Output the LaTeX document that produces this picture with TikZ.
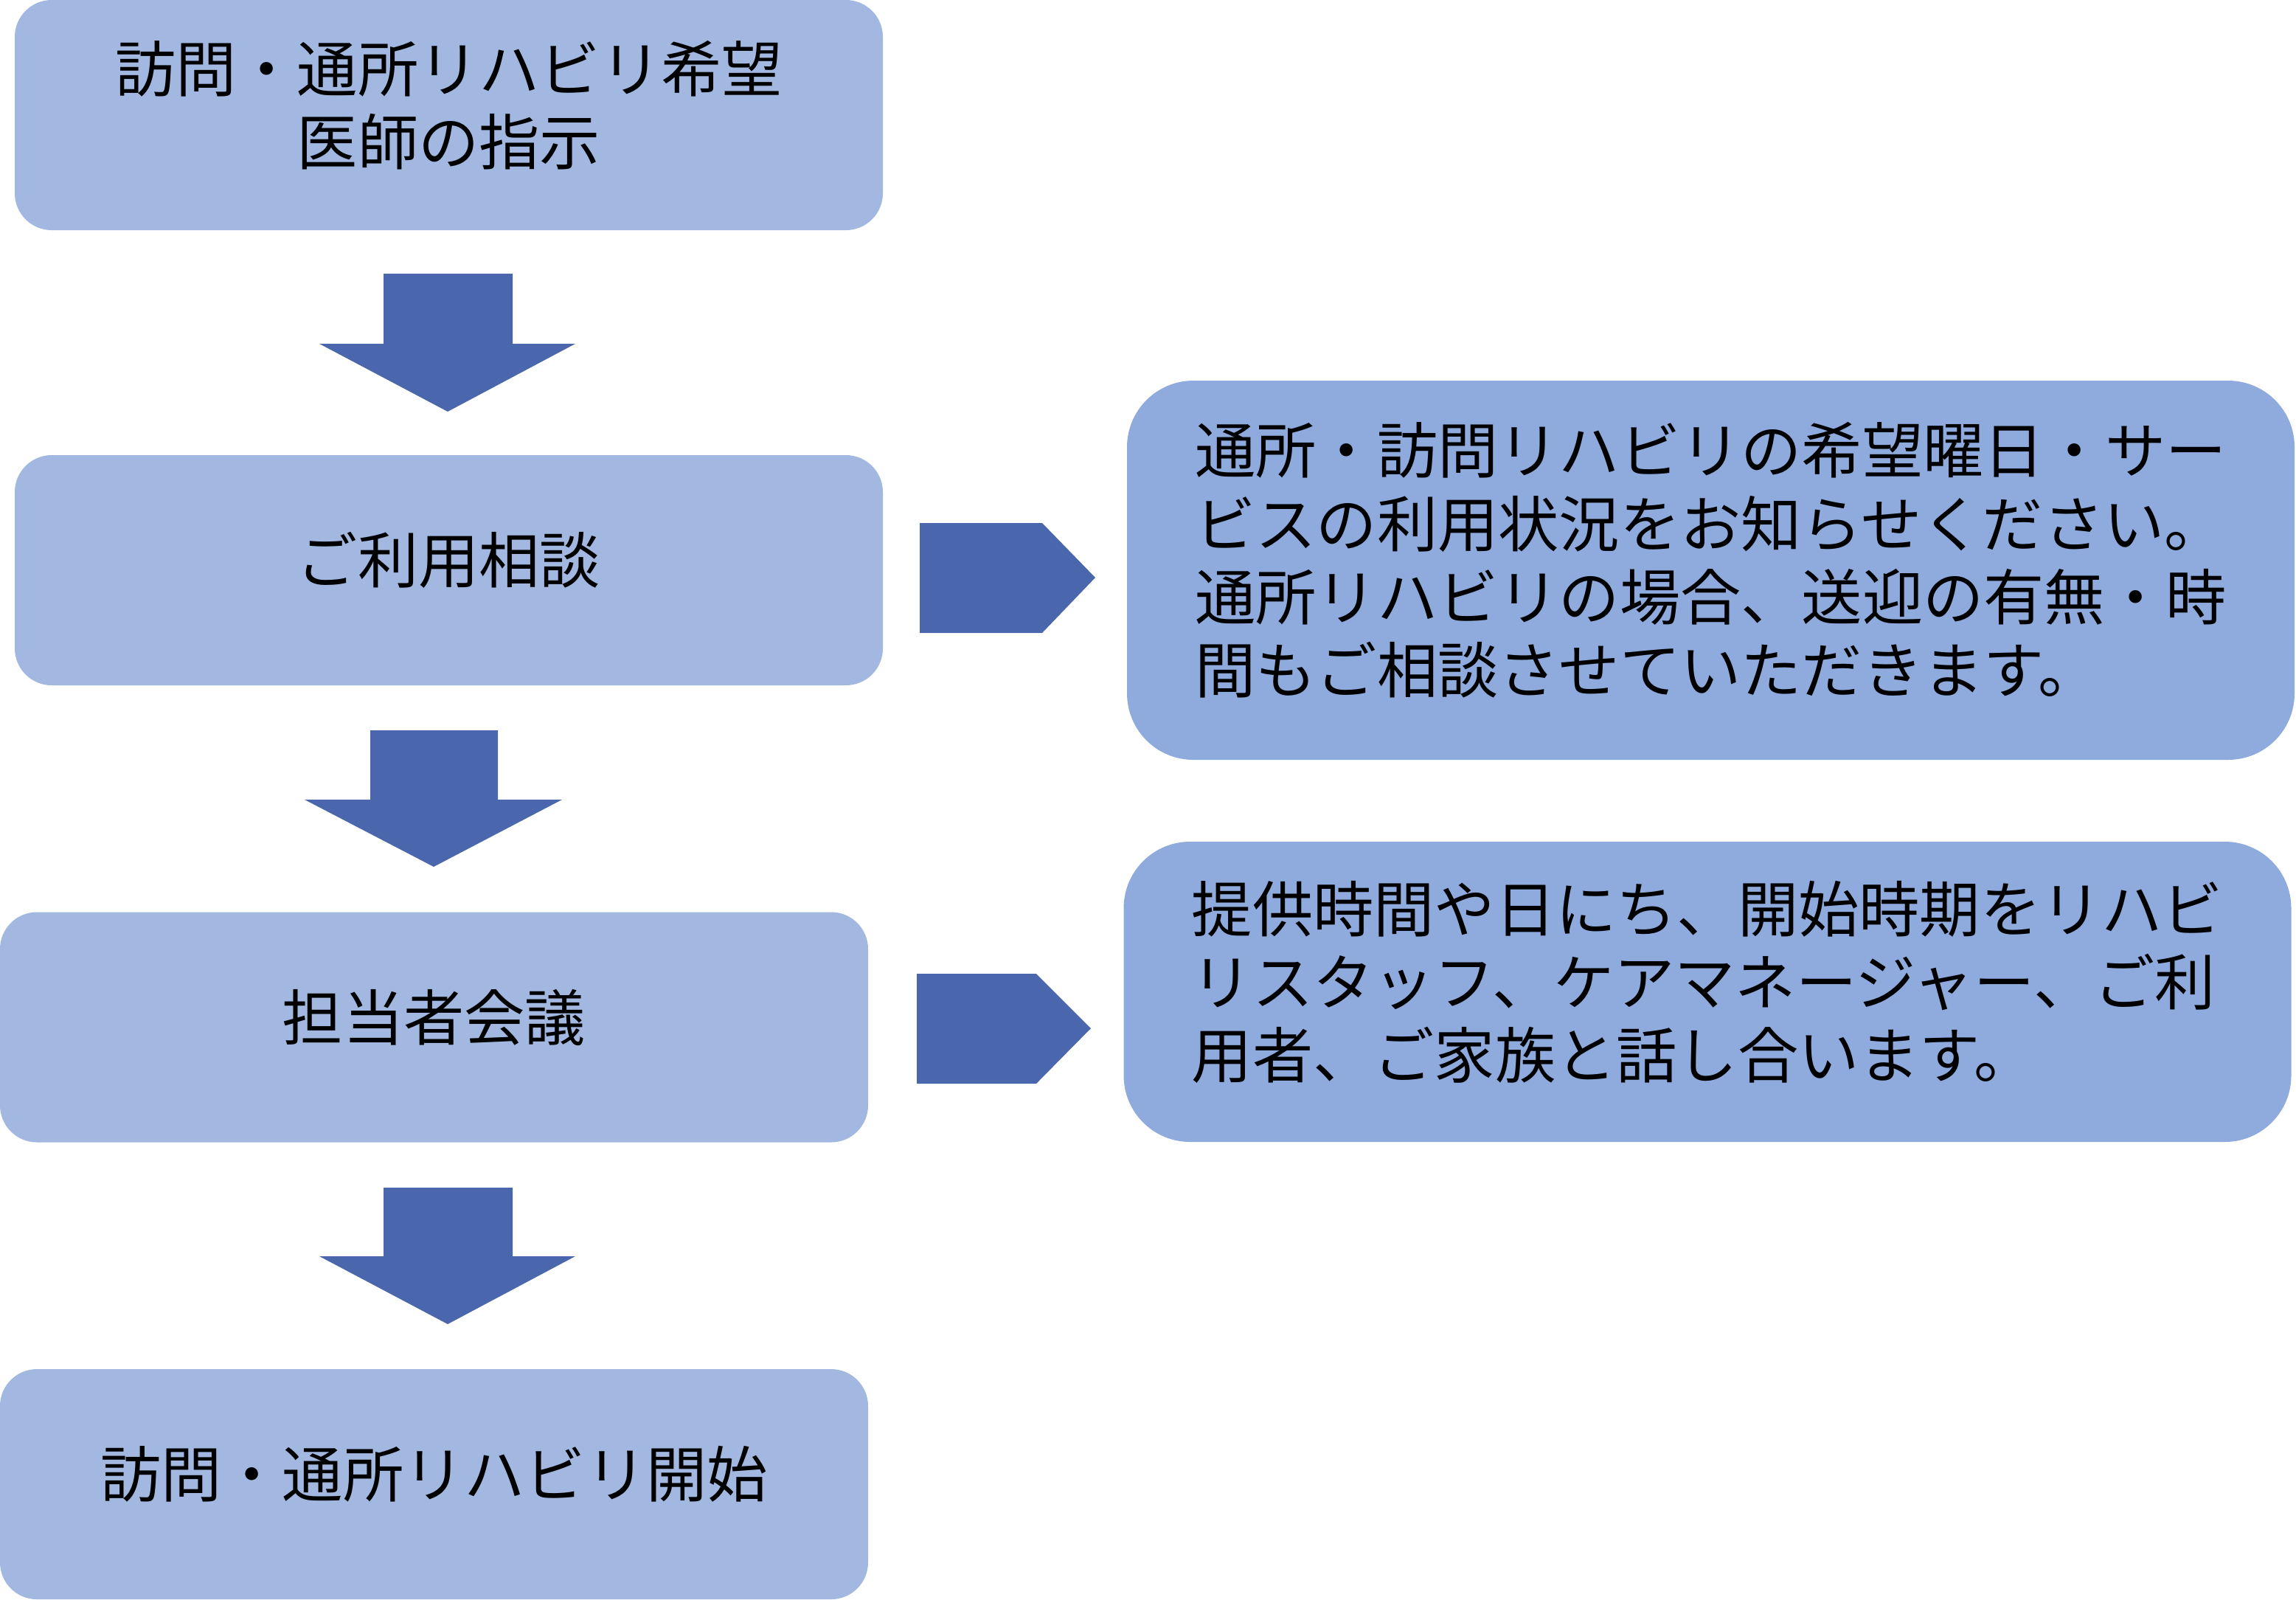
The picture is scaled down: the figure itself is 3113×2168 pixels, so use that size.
\documentclass[tikz,border=0pt]{standalone}
\usepackage{fontspec}
\newfontfamily\jpfont{Noto Sans CJK JP}
\usepackage{tikz}
\definecolor{stepfill}{HTML}{A2B8E0}
\definecolor{notefill}{HTML}{8FAADC}
\definecolor{arrowfill}{HTML}{4A66AC}

\begin{document}
\begin{tikzpicture}[x=0.1mm,y=-0.1mm,
	every node/.style={font=\jpfont\fontsize{23.4}{28.2}\selectfont},
	lift/.style={execute at end node={\rule[-3.4mm]{0pt}{3.4mm}}},
	stepbox/.style={fill=stepfill,rounded corners=5mm,minimum width=117.7mm,minimum height=31.2mm,align=center,inner sep=0pt,lift},
	notebox/.style={fill=notefill,rounded corners=9mm,minimum width=158.3mm,align=left,inner sep=0pt,lift},
	blockarrow/.style={fill=arrowfill}]
	\useasboundingbox (0,0) rectangle (3113,2168);
	
	\node[stepbox] (shiji) at (608.5,156) {訪問・通所リハビリ希望\\医師の指示};
	\node[stepbox] (soudan) at (608.5,773) {ご利用相談};
	\node[stepbox] (kaigi) at (588.5,1392.5) {担当者会議};
	\node[stepbox] (kaishi) at (588.5,2012) {訪問・通所リハビリ開始};
	
	\node[notebox,minimum height=51.4mm] (soudannote) at (2319.5,773) {通所・訪問リハビリの希望曜日・サー\\ビスの利用状況をお知らせください。\\通所リハビリの場合、送迎の有無・時\\間もご相談させていただきます。};
	\node[notebox,minimum height=40.7mm] (kaiginote) at (2315,1344.5) {提供時間や日にち、開始時期をリハビ\\リスタッフ、ケアマネージャー、ご利\\用者、ご家族と話し合います。};
	
	% down arrows
	\fill[blockarrow] (520,371) -- (695,371) -- (695,466) -- (780,466) -- (607,558) -- (433,466) -- (520,466) -- cycle;
	\fill[blockarrow] (502,990) -- (675,990) -- (675,1084) -- (762,1084) -- (588,1175) -- (413,1084) -- (502,1084) -- cycle;
	\fill[blockarrow] (520,1610) -- (695,1610) -- (695,1703) -- (780,1703) -- (607,1795) -- (433,1703) -- (520,1703) -- cycle;
	
	% side arrows
	\fill[blockarrow] (1247,709) -- (1413,709) -- (1485,783) -- (1413,858) -- (1247,858) -- cycle;
	\fill[blockarrow] (1243,1320) -- (1405,1320) -- (1479,1394) -- (1405,1469) -- (1243,1469) -- cycle;
\end{tikzpicture}
\end{document}
